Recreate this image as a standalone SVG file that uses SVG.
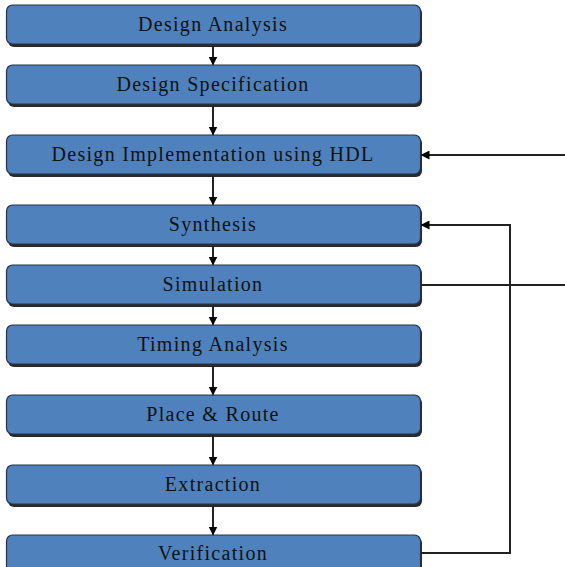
<svg xmlns="http://www.w3.org/2000/svg" width="565" height="567" viewBox="0 0 565 567">
<defs>
<style>
.box{fill:#4f81bd;stroke:#26334a;stroke-width:1.2}
.sh{fill:#2a2a2a}
.t{font-family:"Liberation Serif","Times New Roman",serif;font-size:20px;fill:#111;text-anchor:middle;letter-spacing:1.3px}
.c{stroke:#222;stroke-width:2;fill:none}
</style>
<marker id="ah" markerWidth="9" markerHeight="9" refX="8" refY="4.5" orient="auto" markerUnits="userSpaceOnUse">
<path d="M0,0 L9,4.5 L0,9 Z" fill="#000"/>
</marker>
</defs>
<rect width="565" height="567" fill="#fff"/>
<g id="n1"><rect class="sh" x="8" y="7" width="414" height="40" rx="6"/><rect class="box" x="6.5" y="5" width="414" height="39" rx="6"/><text class="t" x="213" y="31">Design Analysis</text></g>
<g id="n2"><rect class="sh" x="8" y="67" width="414" height="40" rx="6"/><rect class="box" x="6.5" y="65" width="414" height="39" rx="6"/><text class="t" x="213" y="91">Design Specification</text></g>
<g id="n3"><rect class="sh" x="8" y="137" width="414" height="40" rx="6"/><rect class="box" x="6.5" y="135" width="414" height="39" rx="6"/><text class="t" x="213" y="161">Design Implementation using HDL</text></g>
<g id="n4"><rect class="sh" x="8" y="207" width="414" height="40" rx="6"/><rect class="box" x="6.5" y="205" width="414" height="39" rx="6"/><text class="t" x="213" y="231">Synthesis</text></g>
<g id="n5"><rect class="sh" x="8" y="267" width="414" height="40" rx="6"/><rect class="box" x="6.5" y="265" width="414" height="39" rx="6"/><text class="t" x="213" y="291">Simulation</text></g>
<g id="n6"><rect class="sh" x="8" y="327" width="414" height="40" rx="6"/><rect class="box" x="6.5" y="325" width="414" height="39" rx="6"/><text class="t" x="213" y="351">Timing Analysis</text></g>
<g id="n7"><rect class="sh" x="8" y="397" width="414" height="40" rx="6"/><rect class="box" x="6.5" y="395" width="414" height="39" rx="6"/><text class="t" x="213" y="421">Place &amp; Route</text></g>
<g id="n8"><rect class="sh" x="8" y="467" width="414" height="40" rx="6"/><rect class="box" x="6.5" y="465" width="414" height="39" rx="6"/><text class="t" x="213" y="491">Extraction</text></g>
<g id="n9"><rect class="sh" x="8" y="537" width="414" height="40" rx="6"/><rect class="box" x="6.5" y="535" width="414" height="39" rx="6"/><text class="t" x="213" y="560">Verification</text></g>
<g id="connectors">
<line class="c" x1="213" y1="46" x2="213" y2="64.5" marker-end="url(#ah)"/>
<line class="c" x1="213" y1="106" x2="213" y2="134.5" marker-end="url(#ah)"/>
<line class="c" x1="213" y1="176" x2="213" y2="204.5" marker-end="url(#ah)"/>
<line class="c" x1="213" y1="246" x2="213" y2="264.5" marker-end="url(#ah)"/>
<line class="c" x1="213" y1="306" x2="213" y2="324.5" marker-end="url(#ah)"/>
<line class="c" x1="213" y1="366" x2="213" y2="394.5" marker-end="url(#ah)"/>
<line class="c" x1="213" y1="436" x2="213" y2="464.5" marker-end="url(#ah)"/>
<line class="c" x1="213" y1="506" x2="213" y2="534.5" marker-end="url(#ah)"/>
<line class="c" x1="565" y1="155" x2="421.5" y2="155" marker-end="url(#ah)"/>
<line class="c" x1="421" y1="285" x2="565" y2="285"/>
<polyline class="c" points="421,553 510,553 510,225 421.5,225" marker-end="url(#ah)"/>
</g>
</svg>
